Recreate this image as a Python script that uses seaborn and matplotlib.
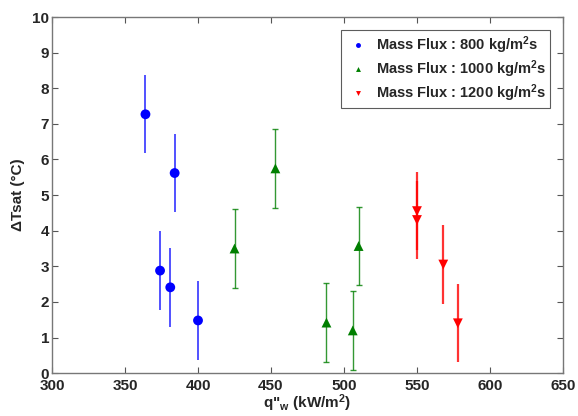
import numpy as np
import pandas as pd
import matplotlib
matplotlib.use("Agg")
import matplotlib.pyplot as plt
import seaborn as sns

# heat flux (kW/m2), wall superheat (C), error half-width
q_800 = [364, 384, 374, 381, 400]
dt_800 = [7.27, 5.62, 2.88, 2.41, 1.48]
err_800 = [1.1, 1.1, 1.1, 1.1, 1.1]

q_1000 = [425, 453, 488, 506, 510]
dt_1000 = [3.50, 5.75, 1.42, 1.20, 3.57]
err_1000 = [1.1, 1.1, 1.1, 1.1, 1.1]

q_1200 = [550, 550, 568, 578]
dt_1200 = [4.55, 4.30, 3.05, 1.40]
err_1200 = [1.1, 1.1, 1.1, 1.1]

labels = ["Mass Flux : 800 kg/m$^2$s",
          "Mass Flux : 1000 kg/m$^2$s",
          "Mass Flux : 1200 kg/m$^2$s"]

sns.set_style("ticks")
plt.rcParams['font.family'] = ['Liberation Sans', 'DejaVu Sans']
plt.rcParams['font.weight'] = 'bold'
plt.rcParams['mathtext.default'] = 'bf'
plt.rcParams['mathtext.fontset'] = 'custom'
plt.rcParams['mathtext.bf'] = 'Liberation Sans:bold'

df = pd.concat([
    pd.DataFrame({'q': q_800, 'dt': dt_800, 'err': err_800, 'grp': labels[0]}),
    pd.DataFrame({'q': q_1000, 'dt': dt_1000, 'err': err_1000, 'grp': labels[1]}),
    pd.DataFrame({'q': q_1200, 'dt': dt_1200, 'err': err_1200, 'grp': labels[2]}),
])

colors = {labels[0]: '#0000ff', labels[1]: '#007f00', labels[2]: '#ff0000'}
markers = {labels[0]: 'o', labels[1]: '^', labels[2]: 'v'}
caps = {labels[0]: 0, labels[1]: 2, labels[2]: 0}
widths = {labels[0]: 1.2, labels[1]: 1.0, labels[2]: 1.6}

fig = plt.figure(figsize=(5.78, 4.16), dpi=100)
ax = fig.add_axes([0.09, 0.103, 0.884, 0.856])

for g in labels:
    sub = df[df['grp'] == g]
    ax.errorbar(sub['q'], sub['dt'], yerr=sub['err'], fmt='none',
                ecolor=colors[g], elinewidth=widths[g], capsize=caps[g],
                alpha=0.8, zorder=2)

sns.scatterplot(data=df, x='q', y='dt', hue='grp', style='grp',
                palette=colors, markers=markers, s=50, edgecolor=None,
                linewidth=0, ax=ax, zorder=3)

ax.set_xlim(300, 650)
ax.set_ylim(0, 10)
ax.set_xticks(np.arange(300, 651, 50))
ax.set_yticks(np.arange(0, 11, 1))
ax.tick_params(direction='in', top=True, right=True, labelsize=11,
               length=4, color='#555555', pad=2)
ax.tick_params(axis='x', pad=4)
for lbl in ax.get_xticklabels() + ax.get_yticklabels():
    lbl.set_fontweight('bold')
for s in ax.spines.values():
    s.set_color('#777777')
    s.set_linewidth(1.0)
ax.set_xlabel("q\"$_\\mathbf{w}$ (kW/m$^2$)", fontsize=11, fontweight='bold', labelpad=0)
ax.set_ylabel("ΔTsat (°C)", fontsize=11, fontweight='bold', labelpad=5)

leg = ax.legend(loc='upper right', fontsize=10.5, markerscale=0.5, frameon=True,
                fancybox=False, edgecolor='#333333', borderpad=0.3,
                handletextpad=0.3, labelspacing=0.15, handlelength=1.8,
                borderaxespad=0, bbox_to_anchor=(0.975, 0.963), title=None)
leg.get_frame().set_linewidth(0.8)
for t in leg.get_texts():
    t.set_fontweight('bold')

fig.savefig("out.png", dpi=100)
